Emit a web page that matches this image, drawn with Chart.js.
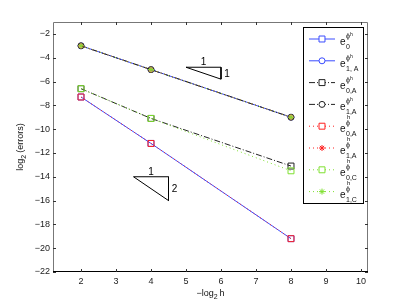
<!DOCTYPE html>
<html><head><meta charset="utf-8">
<script src="https://cdn.jsdelivr.net/npm/chart.js@4"></script>
<style>html,body{margin:0;padding:0;background:#fff}#w{width:406px;height:305px}</style>
</head><body><div id="w"><canvas id="c" width="406" height="305"></canvas></div>
<script>
// ---- data ----
const xValues = [2, 4, 8];
const e0PhiH   = [-7.3, -11.2, -19.2];   // e0^{phi h}   blue square solid
const e1APhi   = [-3, -5, -9];           // e1,A^{phi}   blue circle solid
const e0APhi   = [-6.6, -9.1, -13.1];    // e0,A^{phi}   black square dash-dot
const e1APhiK  = [-3, -5, -9];           // e1,A^{phi}   black circle dash-dot
const e0AH     = [-7.3, -11.2, -19.2];   // e0,A^{h}     red square dotted
const e1AH     = [-3, -5, -9];           // e1,A^{h}     red star dotted
const e0CH     = [-6.6, -9.1, -13.5];    // e0,C^{h}     green square dotted
const e1CH     = [-3, -5, -9];           // e1,C^{h}     green star dotted
const xTicks = [2, 3, 4, 5, 6, 7, 8, 9, 10];
const yTicks = [-22, -20, -18, -16, -14, -12, -10, -8, -6, -4, -2];
const slope1 = [[5, -4.8], [6, -4.8], [6, -5.8]];
const slope1Labels = ['1', '1'];
const slope2 = [[3.5, -14], [4.5, -14], [4.5, -16]];
const slope2Labels = ['1', '2'];

const BLUE = '#3a4cff', BLACK = '#222222', RED = '#ff2020', GREEN = '#7fe030';
const FONT = '"Liberation Sans", Arial, sans-serif';

const series = [
  {data: e0PhiH,  color: BLUE,  dash: [],          style: 'rect',   r: 4.2, sup: 'phih', sub: '0'},
  {data: e1APhi,  color: BLUE,  dash: [],          style: 'circle', r: 3,   sup: 'phih', sub: '1, A'},
  {data: e0APhi,  color: BLACK, dash: [6, 2, 1, 2], style: 'rect',  r: 4.2, sup: 'phih', sub: '0,A'},
  {data: e1APhiK, color: BLACK, dash: [6, 2, 1, 2], style: 'circle', r: 3,  sup: 'phih', sub: '1,A'},
  {data: e0AH,    color: RED,   dash: [1, 3],      style: 'rect',   r: 4.2, sup: 'h', sub: '0,A'},
  {data: e1AH,    color: RED,   dash: [1, 3],      style: 'star',   r: 3,   sup: 'h', sub: '1,A'},
  {data: e0CH,    color: GREEN, dash: [1, 3],      style: 'rect',   r: 4.2, sup: 'h', sub: '0,C'},
  {data: e1CH,    color: GREEN, dash: [1, 3],      style: 'star',   r: 3,   sup: 'h', sub: '1,C'}
];

const datasets = series.map((s, i) => ({
  data: s.data.map((v, j) => ({x: xValues[j], y: v})),
  borderColor: s.color, borderWidth: 1, borderDash: s.dash,
  pointStyle: s.style, pointRadius: s.r, pointBorderColor: s.color,
  pointBackgroundColor: 'rgba(0,0,0,0)', pointBorderWidth: 1,
  fill: false, tension: 0, order: series.length - i
}));
function triSet(tri) {
  return {data: tri.concat([tri[0]]).map(p => ({x: p[0], y: p[1]})),
    borderColor: '#000', borderWidth: 1, pointRadius: 0, fill: false, order: 20};
}
datasets.push(triSet(slope1), triSet(slope2));

function rich(ctx, parts, x, y) {
  let cx = x;
  parts.forEach(p => {
    ctx.font = p.size + 'px ' + FONT;
    ctx.fillText(p.t, cx, y + (p.dy || 0));
    cx += ctx.measureText(p.t).width + (p.gap || 0);
  });
  return cx - x;
}
function richWidth(ctx, parts) {
  let w = 0;
  parts.forEach(p => { ctx.font = p.size + 'px ' + FONT; w += ctx.measureText(p.t).width + (p.gap || 0); });
  return w;
}

const deco = {
  id: 'deco',
  afterDatasetsDraw(chart) {
    const ctx = chart.ctx, a = chart.chartArea, xs = chart.scales.x, ys = chart.scales.y;
    ctx.save();
    // box
    ctx.lineWidth = 1;
    ctx.strokeStyle = '#777';
    ctx.beginPath();
    ctx.moveTo(a.left + 0.5, a.bottom); ctx.lineTo(a.left + 0.5, a.top + 0.5);
    ctx.lineTo(a.right - 0.5, a.top + 0.5); ctx.lineTo(a.right - 0.5, a.bottom);
    ctx.stroke();
    ctx.strokeStyle = '#000';
    ctx.beginPath(); ctx.moveTo(a.left, a.bottom - 0.5); ctx.lineTo(a.right, a.bottom - 0.5); ctx.stroke();
    // inward ticks
    ctx.strokeStyle = '#333';
    ctx.beginPath();
    xTicks.forEach(v => {
      const px = Math.round(xs.getPixelForValue(v)) + 0.5;
      ctx.moveTo(px, a.bottom); ctx.lineTo(px, a.bottom - 3);
      ctx.moveTo(px, a.top); ctx.lineTo(px, a.top + 3);
    });
    yTicks.forEach(v => {
      const py = Math.round(ys.getPixelForValue(v)) + 0.5;
      ctx.moveTo(a.left, py); ctx.lineTo(a.left + 3, py);
      ctx.moveTo(a.right, py); ctx.lineTo(a.right - 3, py);
    });
    ctx.stroke();
    // slope labels
    ctx.fillStyle = '#000';
    ctx.font = '10px ' + FONT;
    ctx.textAlign = 'center'; ctx.textBaseline = 'middle';
    function triLabels(tri, labs) {
      const x0 = xs.getPixelForValue(tri[0][0]), x1 = xs.getPixelForValue(tri[1][0]);
      const y0 = ys.getPixelForValue(tri[1][1]), y1 = ys.getPixelForValue(tri[2][1]);
      ctx.fillText(labs[0], (x0 + x1) / 2, y0 - 5);
      ctx.fillText(labs[1], x1 + 6, (y0 + y1) / 2 + 1);
    }
    triLabels(slope1, slope1Labels);
    triLabels(slope2, slope2Labels);
    // axis titles
    ctx.textAlign = 'left'; ctx.textBaseline = 'alphabetic'; ctx.fillStyle = '#111';
    const xt = [{t: '\u2212log', size: 9}, {t: '2', size: 7, dy: 3, gap: 2}, {t: 'h', size: 9}];
    const xw = richWidth(ctx, xt);
    rich(ctx, xt, (a.left + a.right) / 2 - xw / 2, 296);
    const yt = [{t: 'log', size: 9}, {t: '2', size: 7, dy: 3, gap: 2}, {t: '(errors)', size: 9}];
    const yw = richWidth(ctx, yt);
    ctx.save();
    ctx.translate(23, (a.top + a.bottom) / 2);
    ctx.rotate(-Math.PI / 2);
    rich(ctx, yt, -yw / 2, 0);
    ctx.restore();
    // legend
    const L = 303.5, R = 363.5, T = 27.5, B = 203.5;
    ctx.fillStyle = '#fff'; ctx.fillRect(L, T, R - L, B - T);
    ctx.strokeStyle = '#000'; ctx.lineWidth = 1; ctx.strokeRect(L, T, R - L, B - T);
    series.forEach((s, i) => {
      const cy = 39 + i * 21.8;
      ctx.save();
      ctx.strokeStyle = s.color; ctx.lineWidth = 1; ctx.setLineDash(s.dash);
      ctx.beginPath(); ctx.moveTo(309, cy); ctx.lineTo(335, cy); ctx.stroke();
      ctx.setLineDash([]);
      ctx.fillStyle = '#fff';
      Chart.helpers.drawPoint(ctx, {pointStyle: s.style, radius: s.r, rotation: 0, borderWidth: 1}, 322, cy);
      ctx.restore();
      ctx.fillStyle = '#111'; ctx.textAlign = 'left'; ctx.textBaseline = 'alphabetic';
      ctx.font = '10px ' + FONT;
      ctx.fillText('e', 340, cy + 6);
      ctx.font = '7px ' + FONT;
      ctx.fillText('\u03d5', 346, cy - 1);
      if (s.sup === 'phih') {
        ctx.font = '5px ' + FONT; ctx.fillText('h', 350, cy - 3);
      } else {
        ctx.font = '6px ' + FONT; ctx.fillText('h', 347, cy - 7);
      }
      ctx.font = '7px ' + FONT;
      ctx.fillText(s.sub, 346, cy + 10);
    });
    ctx.restore();
  }
};

new Chart(document.getElementById('c'), {
  type: 'line',
  data: {datasets},
  options: {
    responsive: false, animation: false, devicePixelRatio: 1,
    layout: {padding: {left: 0, right: 38, top: 22, bottom: 0}},
    plugins: {legend: {display: false}, tooltip: {enabled: false}},
    scales: {
      x: {type: 'linear', min: 1.2, max: 10.2,
        grid: {display: false, drawTicks: false}, border: {display: false},
        afterBuildTicks: s => { s.ticks = xTicks.map(v => ({value: v})); },
        afterFit: s => { s.height = 33; },
        ticks: {padding: 4, color: '#222', font: {size: 9, family: FONT}, maxRotation: 0,
          callback: v => String(v)}},
      y: {type: 'linear', min: -22, max: -1,
        grid: {display: false, drawTicks: false}, border: {display: false},
        afterBuildTicks: s => { s.ticks = yTicks.map(v => ({value: v})); },
        afterFit: s => { s.width = 53; },
        ticks: {padding: 3, color: '#222', font: {size: 9, family: FONT},
          callback: v => String(v).replace('-', '\u2212')}}
    }
  },
  plugins: [deco]
});
</script></body></html>
